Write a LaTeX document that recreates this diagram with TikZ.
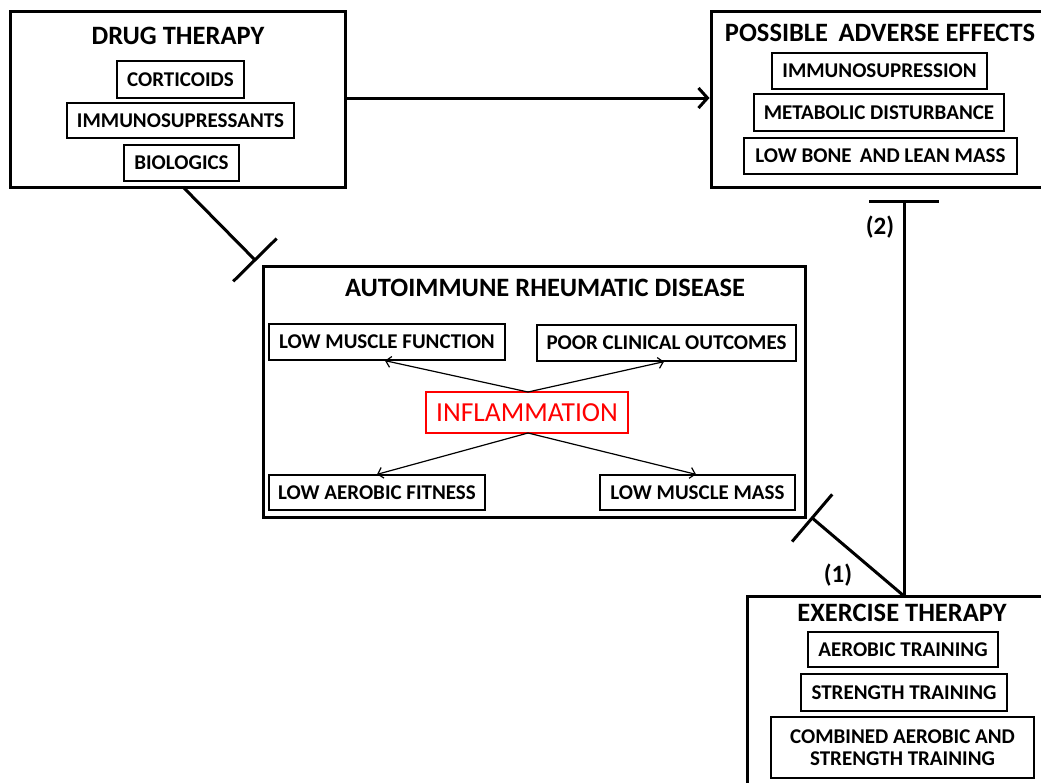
\documentclass[tikz,border=0pt]{standalone}
\usepackage{fontspec}
\setmainfont{Carlito}
\usetikzlibrary{fit,arrows.meta}
\begin{document}
\begin{tikzpicture}[x=1pt,y=-1pt,
  outerbox/.style={draw, line width=3pt, inner sep=0pt},
  subbox/.style={draw, line width=1.3pt, inner sep=0pt, font=\fontsize{21}{24}\selectfont\bfseries, align=center},
  sz/.style 2 args={minimum width=#1pt, minimum height=#2pt},
  titletext/.style={inner sep=0pt, font=\fontsize{26.5}{30}\selectfont\bfseries},
  labeltext/.style={inner sep=0pt, font=\fontsize{25}{28}\selectfont\bfseries},
  redbox/.style={draw=red, line width=1.3pt, inner sep=0pt, text=red, font=\fontsize{27.5}{31}\selectfont},
  inhib/.style={line width=3pt, -{Bar[width=#1, line width=3pt]}},
  bigarrow/.style={line width=3pt, -{Straight Barb[length=9pt, width=20pt, line width=3pt]}},
  thinarrow/.style={line width=1.2pt, -{Straight Barb[length=5pt, width=11pt, line width=1.2pt]}}
]
\useasboundingbox (0,0) rectangle (1041,782);
\fill[white] (0,0) rectangle (1041,782);

% Drug therapy
\node[outerbox, fit={(10,11) (345,187)}] (drug) {};
\node[titletext] (drugT) at (178,36) {DRUG THERAPY};
\node[subbox, sz={127}{37}] (cort) at (180.5,79.5) {CORTICOIDS};
\node[subbox, sz={227}{35}] (immsup) at (180.5,120.5) {IMMUNOSUPRESSANTS};
\node[subbox, sz={115}{36}] (bio) at (181.5,163) {BIOLOGICS};

% Adverse effects
\node[outerbox, fit={(711,11) (1050,187)}] (adv) {};
\node[titletext] (advT) at (880,33) {POSSIBLE\, ADVERSE EFFECTS};
\node[subbox, sz={215}{36}] (immsupr) at (879.5,71) {IMMUNOSUPRESSION};
\node[subbox, sz={250}{37}] (metab) at (879,112.5) {METABOLIC DISTURBANCE};
\node[subbox, sz={273}{36}] (bone) at (880.5,156) {LOW BONE\, AND LEAN MASS};

% Autoimmune disease
\node[outerbox, fit={(263,266) (805,517)}] (ard) {};
\node[titletext] (ardT) at (545,288) {AUTOIMMUNE RHEUMATIC DISEASE};
\node[subbox, sz={236}{36}] (lmf) at (387,342) {LOW MUSCLE FUNCTION};
\node[subbox, sz={259}{36}] (pco) at (666.5,343) {POOR CLINICAL OUTCOMES};
\node[subbox, sz={216}{35}] (laf) at (377,492.5) {LOW AEROBIC FITNESS};
\node[subbox, sz={195}{35}] (lmm) at (697.5,492.5) {LOW MUSCLE MASS};
\node[redbox, sz={202}{41}] (infl) at (527,412.5) {INFLAMMATION};

% Exercise therapy
\node[outerbox, fit={(747,596) (1050,795)}] (ex) {};
\node[titletext] (exT) at (902,613) {EXERCISE THERAPY};
\node[subbox, sz={190}{35}] (aer) at (903,649.5) {AEROBIC TRAINING};
\node[subbox, sz={206}{37}] (str) at (904,692.5) {STRENGTH TRAINING};
\node[subbox, sz={263}{61}] (comb) at (902.5,747.5) {COMBINED AEROBIC AND\\[-2pt] STRENGTH TRAINING};

% labels
\node[labeltext] (l2) at (880,227) {(2)};
\node[labeltext] (l1) at (838,575) {(1)};

% coordinates for free ends
\coordinate (inhA) at (256,261);
\coordinate (inhB) at (904,200);
\coordinate (inhC) at (811,517);
\coordinate (exTop) at (904,596);
\coordinate (drugBot) at (183,187);

% connectors
\draw[bigarrow] (drug.east |- 0,98) -- (adv.west |- 0,98);
\draw[inhib=61pt] (drugBot) -- (inhA);
\draw[inhib=70pt] (exTop) -- (inhB);
\draw[inhib=62pt] (exTop) -- (inhC);

% thin arrows
\coordinate (inflTop) at (528,392);
\coordinate (inflBot) at (528,433);
\draw[thinarrow] (inflTop) -- (lmf.south -| 385,0);
\draw[thinarrow] (inflTop) -- (pco.south -| 664,0);
\draw[thinarrow] (inflBot) -- (laf.north -| 377,0);
\draw[thinarrow] (inflBot) -- (lmm.north -| 696,0);
\end{tikzpicture}
\end{document}
